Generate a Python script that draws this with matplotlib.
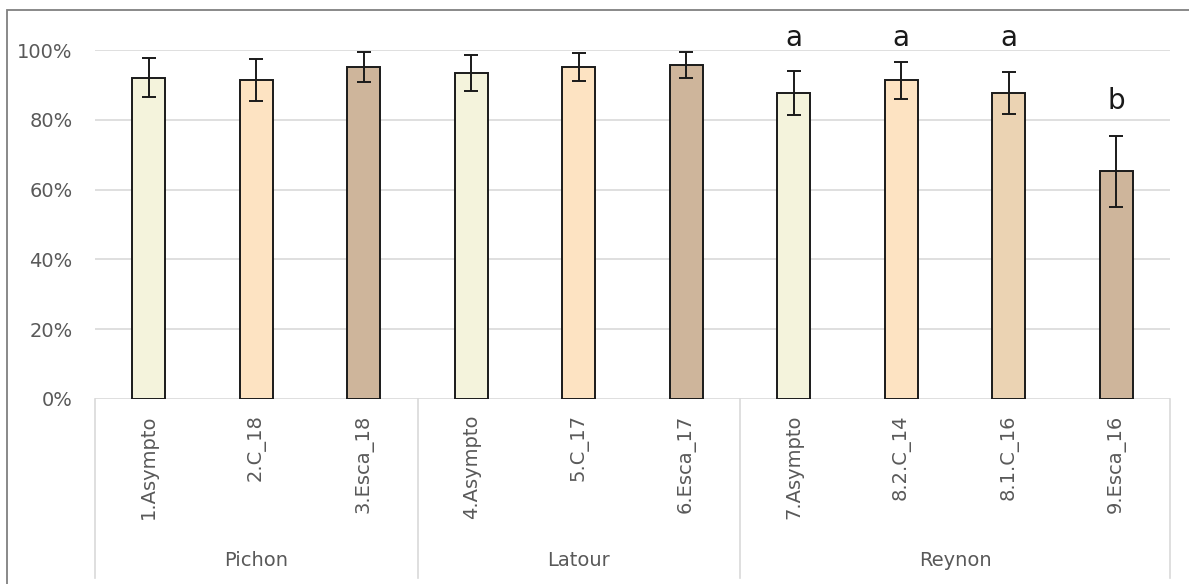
"""Bar chart of survival rates per modality, grouped by vineyard."""
import matplotlib
matplotlib.use("Agg")
import matplotlib.pyplot as plt
import matplotlib.transforms as mtransforms
from matplotlib.patches import Rectangle
import numpy as np

W, H = 1189, 584

categories = ["1.Asympto", "2.C_18", "3.Esca_18",
              "4.Asympto", "5.C_17", "6.Esca_17",
              "7.Asympto", "8.2.C_14", "8.1.C_16", "9.Esca_16"]
groups = ["Pichon", "Latour", "Reynon"]
group_sizes = [3, 3, 4]
means = [0.921, 0.914, 0.950, 0.934, 0.951, 0.957, 0.878, 0.914, 0.878, 0.652]
errors = [0.055, 0.061, 0.043, 0.051, 0.040, 0.036, 0.063, 0.053, 0.060, 0.103]
letters = ["", "", "", "", "", "", "a", "a", "a", "b"]
letter_y = [None, None, None, None, None, None, 1.035, 1.035, 1.035, 0.855]
colors = ["#F4F3DC", "#FDE3C2", "#CEB59B",
          "#F4F3DC", "#FDE3C2", "#CEB59B",
          "#F4F3DC", "#FDE3C2", "#EBD3B3", "#CEB59B"]

TEXT_GRAY = "#595959"
GRID = "#D9D9D9"
FS = 14

plt.rcParams["font.family"] = ["DejaVu Sans"]

fig = plt.figure(figsize=(W / 100, H / 100), dpi=100)
# plot area in pixels: x 95..1170, y 50 (100%) .. 399 (0%)
ax = fig.add_axes([95 / W, 1 - 399 / H, (1170 - 95) / W, (399 - 50) / H])

x = np.arange(len(categories))
ax.bar(x, means, width=0.31, color=colors, edgecolor="#1a1a1a", linewidth=1.4, zorder=3)
ax.errorbar(x, means, yerr=errors, fmt="none", ecolor="#1a1a1a",
            elinewidth=1.4, capsize=5, capthick=1.4, zorder=4)

for xi, lab, ly in zip(x, letters, letter_y):
    if lab:
        ax.text(xi, ly, lab, ha="center", va="center", fontsize=20,
                color="#1a1a1a", clip_on=False)

ax.set_xlim(-0.5, len(categories) - 0.5)
ax.set_ylim(0, 1)
yt = np.arange(0, 1.01, 0.2)
ax.set_yticks(yt)
ax.set_yticklabels([f"{int(round(v * 100))}%" for v in yt])
ax.yaxis.grid(True, color=GRID, linewidth=1.2, zorder=0)
ax.set_axisbelow(True)
for s in ax.spines.values():
    s.set_visible(False)
ax.tick_params(axis="y", length=0, pad=16, labelsize=FS, labelcolor=TEXT_GRAY)
ax.set_xticks(x)
ax.set_xticklabels(categories, rotation=90)
ax.tick_params(axis="x", length=0, pad=11, labelsize=FS, labelcolor=TEXT_GRAY)

# category axis with group boundaries, drawn below the plot area
trans = mtransforms.blended_transform_factory(ax.transData, ax.transAxes)
y_bottom = -(578 - 399) / (399 - 50)
y_group = -(560 - 399) / (399 - 50)
bounds = np.concatenate([[0], np.cumsum(group_sizes)]) - 0.5
for b in bounds:
    ax.plot([b, b], [0, y_bottom], transform=trans, color=GRID,
            linewidth=1.2, clip_on=False)
for g, lo, hi in zip(groups, bounds[:-1], bounds[1:]):
    ax.text((lo + hi) / 2, y_group, g, transform=trans,
            ha="center", va="center", fontsize=FS, color=TEXT_GRAY)

# outer chart border
fig.add_artist(Rectangle((7 / W, -0.1), 1.2, 1.1 - 10 / H, transform=fig.transFigure,
                         fill=False, edgecolor="#808080", linewidth=1.3))

fig.savefig("out.png", dpi=100)
